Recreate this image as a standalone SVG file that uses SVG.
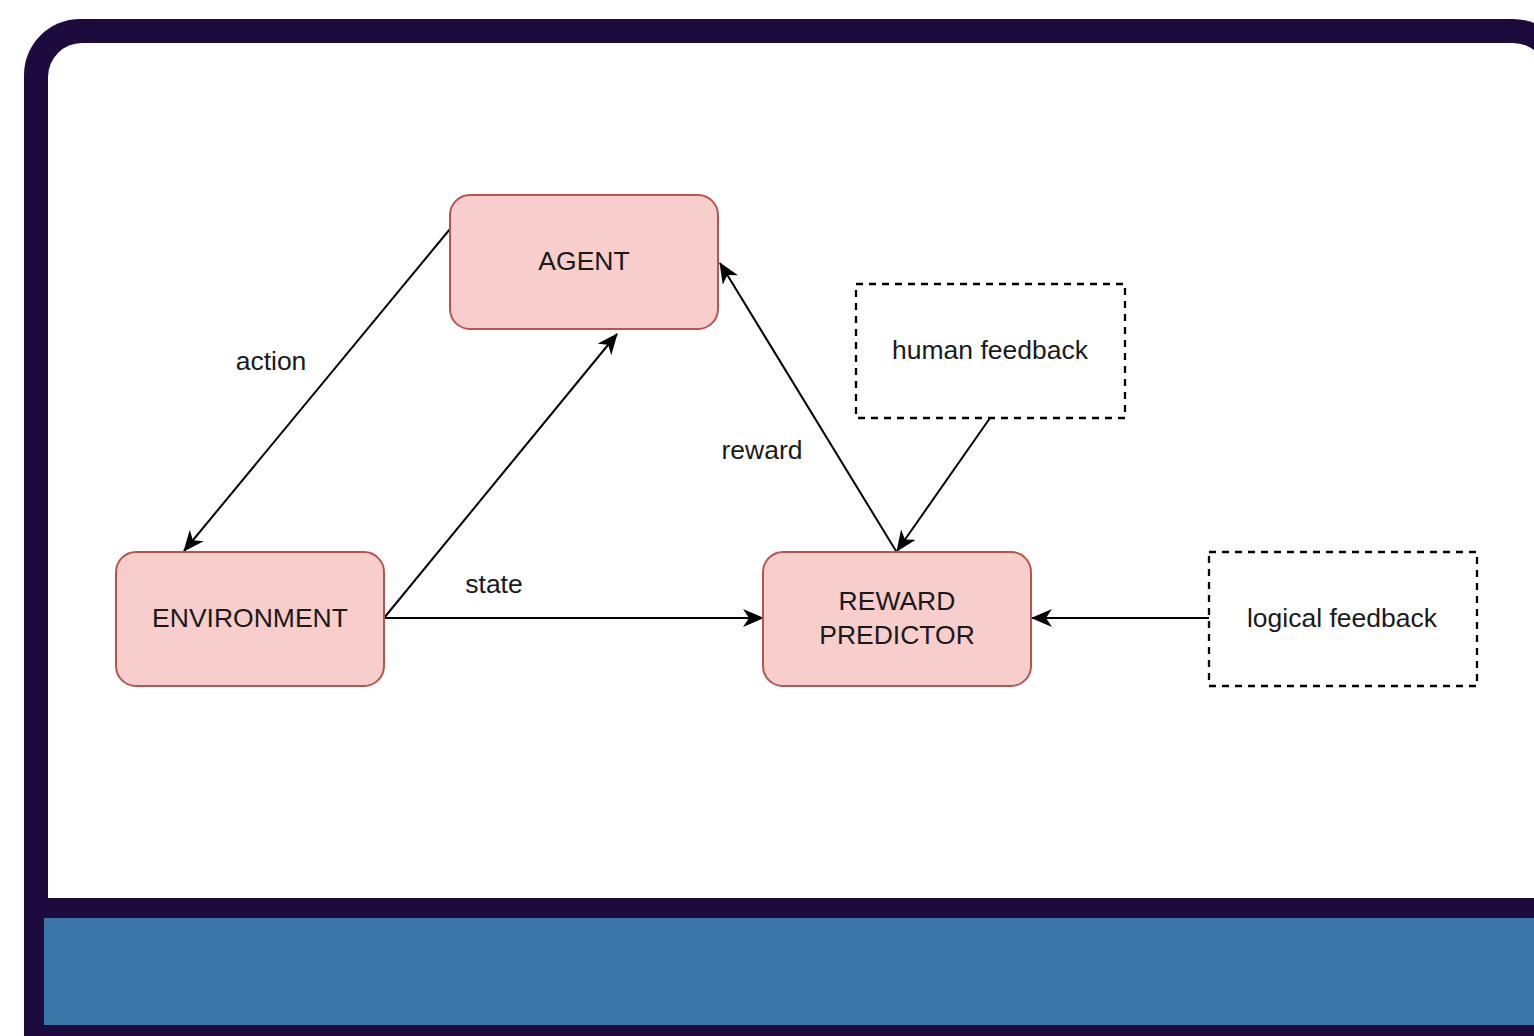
<svg xmlns="http://www.w3.org/2000/svg" width="1534" height="1036" viewBox="0 0 1534 1036">
  <style>
    .node { fill: #f8cecc; stroke: #b85450; stroke-width: 2; }
    .dash { fill: #ffffff; stroke: #000000; stroke-width: 2.3; stroke-dasharray: 7 6; }
    .lbl { font-family: "Liberation Sans", Arial, sans-serif; font-size: 26.5px; fill: #1a1a1a; text-anchor: middle; }
    .edge { stroke: #000000; stroke-width: 2; fill: none; }
  </style>
  <defs>
    <marker id="arr" markerUnits="userSpaceOnUse" viewBox="0 0 21 18" refX="20" refY="9" markerWidth="21" markerHeight="18" orient="auto">
      <path d="M0,0 L21,9 L0,18 L6,9 Z" fill="#000000"/>
    </marker>
  </defs>
  <rect x="0" y="0" width="1534" height="1036" fill="#ffffff"/>
  <g id="frame">
    <rect x="24" y="19" width="1545" height="1100" rx="56" fill="#1d0b3d"/>
    <rect x="48" y="43" width="1499" height="1000" rx="34" fill="#ffffff"/>
    <rect x="24" y="898" width="1545" height="200" rx="18" fill="#1d0b3d"/>
    <rect x="44" y="918" width="1520" height="107" fill="#3a75a8"/>
  </g>
  <g id="connectors">
    <line class="edge" x1="450" y1="229" x2="184" y2="551" marker-end="url(#arr)"/>
    <line class="edge" x1="384" y1="618" x2="617" y2="334" marker-end="url(#arr)"/>
    <line class="edge" x1="384" y1="618" x2="763" y2="618" marker-end="url(#arr)"/>
    <line class="edge" x1="896" y1="551" x2="720" y2="263" marker-end="url(#arr)"/>
    <line class="edge" x1="990" y1="418" x2="897" y2="551" marker-end="url(#arr)"/>
    <line class="edge" x1="1209" y1="618" x2="1032" y2="618" marker-end="url(#arr)"/>
    <text class="lbl" x="271" y="370">action</text>
    <text class="lbl" x="494" y="593">state</text>
    <text class="lbl" x="762" y="459">reward</text>
  </g>
  <g id="agent">
    <rect class="node" x="450" y="195" width="268" height="134" rx="20"/>
    <text class="lbl" x="584" y="270">AGENT</text>
  </g>
  <g id="environment">
    <rect class="node" x="116" y="552" width="268" height="134" rx="20"/>
    <text class="lbl" x="250" y="627">ENVIRONMENT</text>
  </g>
  <g id="reward-predictor">
    <rect class="node" x="763" y="552" width="268" height="134" rx="20"/>
    <text class="lbl" x="897" y="610">REWARD</text>
    <text class="lbl" x="897" y="644">PREDICTOR</text>
  </g>
  <g id="human-feedback">
    <rect class="dash" x="856" y="284" width="269" height="134"/>
    <text class="lbl" x="990" y="359">human feedback</text>
  </g>
  <g id="logical-feedback">
    <rect class="dash" x="1209" y="552" width="268" height="134"/>
    <text class="lbl" x="1342" y="627">logical feedback</text>
  </g>
</svg>
